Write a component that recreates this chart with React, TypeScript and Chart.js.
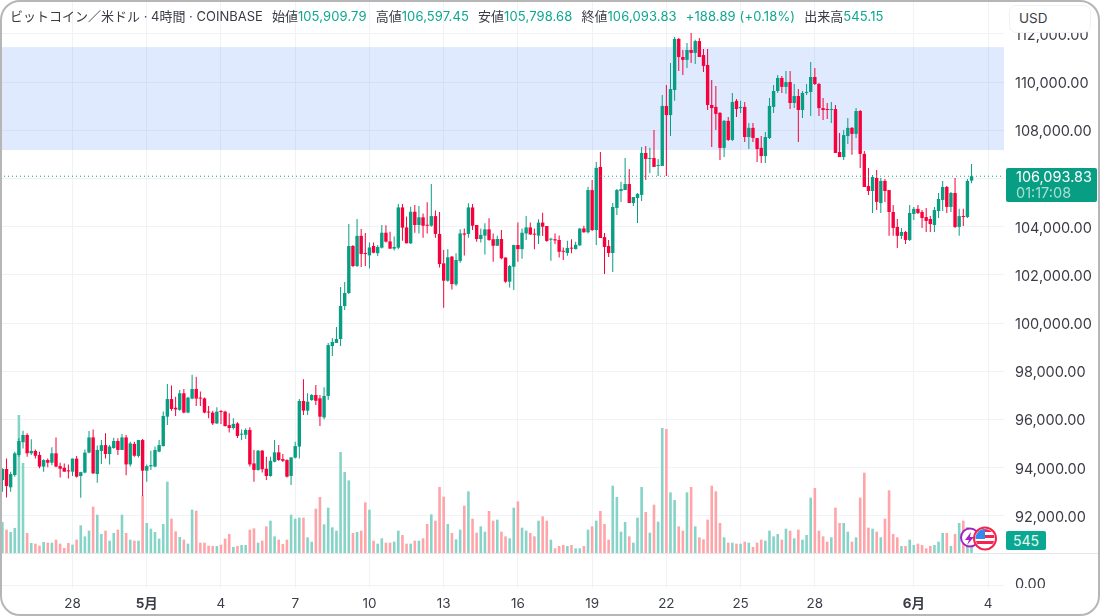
import { useEffect, useRef } from "react";
import Chart from "chart.js/auto";

const opens = [
  93490,93950,93190,93700,94530,95060,95360,94600,94700,94530,
  94050,94320,94210,94600,94070,94000,93880,93840,94380,93660,
  93800,94630,95260,93740,94700,94940,94570,94820,95110,94740,
  95260,94140,94990,94490,95150,93880,94060,94050,94670,94900,
  96120,96850,96490,96400,97090,96290,96870,97270,96910,96880,
  96310,96290,95840,96340,96330,95770,95650,95840,95370,95370,
  95570,94180,93910,94710,93960,93660,94250,94640,94360,94320,
  93660,94420,94880,96770,96370,96810,97020,96880,96090,96980,
  99050,99180,99340,100710,101250,103200,102370,103620,102910,102810,
  103200,102900,103130,103750,103390,103090,103130,104800,103970,103310,
  104620,104070,104390,104070,104040,104440,103700,102480,101760,102760,
  101610,102580,103720,103700,104800,104070,103490,103630,103890,103480,
  103210,103490,102720,101720,102340,103240,103070,103720,103970,103700,
  103630,104170,104030,103460,103480,103450,102990,102910,103120,103070,
  103230,103930,103770,105520,103860,106480,103570,103200,102910,104780,
  105480,105520,105770,104980,105190,105320,107060,106810,106850,106520,
  106520,109010,108630,109670,111790,111040,110920,111330,111210,111700,
  111120,110710,109050,108970,108720,107270,108390,107600,109220,108920,
  108970,107720,108100,107680,107270,106930,107680,108970,109630,110170,
  109800,110000,109130,109420,108840,109550,109590,110210,109920,108920,
  108880,108840,108880,107100,106890,107760,108100,107850,108800,107020,
  105690,105480,106020,104980,105900,105520,104610,103990,103620,103780,
  103450,104530,104740,104610,104400,104320,104070,104650,105110,105650,
  104820,105400,103990,104440,104400,105909.79,
];

const highs = [
  93980,94390,93840,94670,95240,95540,95430,95180,94760,94670,
  94350,94380,94850,95260,94210,94180,94140,94390,94490,93840,
  94760,95530,95590,94920,95150,95430,94940,95250,95220,95400,
  95360,95080,95080,95150,95190,94140,94710,94880,95150,96330,
  97480,97410,96950,97230,97270,96950,97860,97780,97160,96920,
  96560,96370,96510,96400,96370,96260,96050,95890,95590,95640,
  95680,94740,94740,94740,94460,94460,95150,94940,94570,94350,
  94430,95080,96850,97670,97090,97060,97430,97020,97340,99180,
  99380,99840,101500,101710,104110,103240,104320,103900,103740,103350,
  103340,103240,104070,104060,103790,103590,104940,104940,104420,104830,
  104900,104860,104550,105010,105770,104670,104610,103030,103060,102780,
  102900,103890,103930,104970,104940,104070,103930,104140,104350,103720,
  103630,103860,102730,102410,103250,104170,103930,104440,104170,103930,
  104310,104580,104030,103540,103720,103640,103140,103420,103480,103380,
  103950,104040,105660,105940,106680,107100,103740,103450,104980,105560,
  105860,106850,106390,105230,105400,107310,107350,107270,108010,106810,
  109460,109880,110790,111870,111830,111330,111620,112040,111750,111830,
  111370,111370,110090,109840,108760,108430,108550,109550,109300,109220,
  109170,108300,108300,107680,107760,107930,109340,109880,110290,110250,
  110460,110460,109920,109710,109630,109920,110830,110580,109960,109340,
  109130,109170,109050,107890,108010,108510,108140,108920,108840,107140,
  106440,106150,106350,106020,105980,105520,104900,104320,103950,103820,
  104900,104820,104900,104690,104780,104440,104820,105400,105900,105690,
  105440,106020,104740,104740,105980,106597.45,
];

const lows = [
  93010,92770,93010,93630,94460,94800,94460,94530,94390,93980,
  93840,94020,94110,94020,93600,93840,93560,93660,93600,92760,
  93770,94600,93740,93380,94160,94380,94140,94790,94530,94740,
  93690,94050,94460,94430,92830,93420,93910,94020,94640,94880,
  95770,96370,96150,96370,96260,96260,96840,96560,96560,96260,
  96050,95770,95820,95820,95710,95460,95590,95240,95150,95190,
  94050,93420,93880,93800,93490,93630,94230,94290,94240,93600,
  93290,94380,94380,96190,96190,96780,96600,95730,96010,96810,
  98640,99180,99050,100550,101210,102330,102330,102330,102370,102270,
  102900,102780,103100,103350,103090,103010,103060,103420,103310,103280,
  103750,103720,103540,103720,104000,103540,102310,100640,101720,101400,
  101540,102510,102810,103540,103860,103380,103350,102850,103420,102550,
  103200,102650,101680,101480,101370,102550,102670,103450,103660,103070,
  103280,103610,103380,102590,103280,102720,102620,102800,102900,103060,
  103200,103750,103720,103820,103240,103530,102040,102740,102120,104490,
  105030,105520,104980,104860,104150,105070,105940,106230,106480,106100,
  106520,106100,107760,109220,110460,110290,110580,110790,110750,111040,
  110420,108840,107310,108010,106770,106890,107560,107560,108550,108720,
  107510,107220,107510,106680,106640,106640,107640,108720,109550,109550,
  109510,108880,108920,107510,108510,109460,108590,109880,108590,108430,
  108470,108300,107060,106890,106770,107430,106980,107680,106440,105650,
  105320,104570,104690,104570,105030,103620,103620,103120,103490,103280,
  103410,104280,104530,103950,103780,103780,103780,104360,104650,104570,
  104610,103950,103620,104030,104360,105798.68,
];

const closes = [
  93950,93240,93740,94600,95110,95360,94600,94700,94500,94050,
  94320,94210,94600,94050,93960,93840,93850,94380,93630,93820,
  94630,95260,93770,94740,94940,94570,94880,95110,94740,95260,
  94140,95010,94500,95150,93880,94070,94110,94740,94940,96150,
  96850,96440,96420,97090,96290,96910,97270,96870,96870,96290,
  96290,95840,96330,96310,95730,95650,95820,95320,95400,95570,
  94140,93910,94710,93940,93660,94290,94640,94320,94290,93630,
  94430,94900,96770,96370,96740,97020,96780,96120,96980,99090,
  99220,99340,100710,101250,103200,102370,103620,102870,102870,103140,
  102920,103160,103750,103380,103090,103160,104800,103960,103310,104620,
  104070,104390,104040,104040,104440,103700,102450,101760,102730,101620,
  102620,103720,103670,104800,104040,103490,103660,103890,103450,103210,
  103490,102690,101720,102370,103240,103070,103750,103970,103680,103670,
  104170,104000,103410,103490,103430,102960,102960,103120,103090,103250,
  103920,103770,105520,103860,106440,103530,103160,102910,104820,105520,
  105560,105770,104980,105230,105360,107060,106810,106850,106480,106560,
  109010,108630,109710,111790,111040,110920,111330,111210,111700,111040,
  110670,109050,108920,108680,107270,108390,107600,109170,108880,108970,
  107720,108100,107680,107220,106930,107720,109010,109630,110170,109800,
  110000,109130,109420,108840,109550,109590,110210,109920,108920,108840,
  108840,108880,107060,106890,107800,108100,107850,108800,107020,105650,
  105480,106060,105030,105900,105480,104610,103950,103620,103780,103450,
  104570,104740,104570,104360,104240,104110,104690,105150,105650,104820,
  105400,103990,104440,104400,105900,106093.83,
];

const volumes = [
  1302,980,882,1050,5796,3780,840,420,392,308,
  462,434,434,560,392,210,420,350,560,1162,
  700,938,1946,1610,798,938,518,840,980,1610,
  840,560,518,518,2408,1260,1022,882,602,1218,
  2996,1442,910,672,560,392,1820,1778,434,434,
  308,294,294,350,602,798,252,294,336,336,
  980,1036,434,518,1120,1358,700,560,378,560,
  1610,1442,1484,1484,658,476,1862,2352,1204,1904,
  1078,938,4242,3402,3052,840,882,938,2128,1820,
  518,392,616,434,434,476,938,756,392,392,
  518,518,616,1218,1624,1358,2772,2366,1218,840,
  574,980,1988,2590,1442,854,1120,896,1764,1358,
  1400,896,700,616,1904,2170,1064,938,840,700,
  1358,1540,1358,560,196,294,336,294,336,196,
  196,294,980,1120,1358,1764,1218,560,2828,2352,
  896,1302,700,434,1484,2772,1722,854,2030,1316,
  5250,5208,2548,2226,1120,938,2548,2772,1120,658,
  574,1400,2828,2590,1260,658,434,434,392,392,
  476,434,252,434,560,518,938,700,798,560,
  1022,938,616,980,560,756,2324,2730,938,700,
  476,658,1904,1260,1260,896,476,658,2324,3374,
  1064,1022,896,658,1442,2632,798,658,294,294,
  560,336,392,336,196,294,336,476,840,840,
  294,798,1260,1358,1092,545.15,
];

const priceTicks = [92000,94000,96000,98000,100000,102000,104000,106000,108000,110000,112000];
const xTickIndex = [17,35,53,71,89,107,125,143,161,179,197,221,239];
const xTickLabels = ["28","5月","4","7","10","13","16","19","22","25","28","6月","4"];
const monthTicks = ["5月","6月"];
const bandTop = 111450;
const bandBottom = 107180;
const lastClose = 106093.83;

const UP = "#089e83";
const DOWN = "#f7003b";
const UP_VOL = "#86d4c8";
const DOWN_VOL = "#ffa5a9";
const GRID = "#f1f2f5";
const FONT = 'Inter, "Noto Sans CJK JP", sans-serif';

const fitAxisWidth = (axis: any) => {
  axis.width = 96;
  axis.paddingTop = 0;
  axis.paddingBottom = 0;
};

const bandPlugin = {
  id: "band",
  beforeDatasetsDraw(chart: any) {
    const { ctx, chartArea, scales } = chart;
    const top = scales.y.getPixelForValue(bandTop);
    const bottom = scales.y.getPixelForValue(bandBottom);
    ctx.save();
    ctx.fillStyle = "rgba(41,110,245,0.145)";
    ctx.fillRect(chartArea.left, top, chartArea.width, bottom - top);
    ctx.restore();
  },
  afterDraw(chart: any) {
    const { ctx, scales } = chart;
    ctx.save();
    ctx.strokeStyle = "#e6e7ea";
    ctx.beginPath();
    ctx.moveTo(0, scales.yLower.top + 0.5);
    ctx.lineTo(chart.width, scales.yLower.top + 0.5);
    ctx.stroke();
    ctx.restore();
  },
};

function Stat({ label, value }: { label: string; value: string }) {
  return (
    <span style={{ marginLeft: 9 }}>
      {label}
      <span style={{ color: "#0da88e", letterSpacing: 0.12 }}>{value}</span>
    </span>
  );
}

export default function App() {
  const canvasRef = useRef<HTMLCanvasElement>(null);

  useEffect(() => {
    if (!canvasRef.current) return;
    const index = opens.map((_, i) => i);
    const isUp = (i: number) => closes[i] >= opens[i];
    const xMin = -0.582;
    const xMax = 242.87;

    const chart = new Chart(canvasRef.current, {
      data: {
        datasets: [
          {
            type: "line",
            data: [
              { x: xMin, y: lastClose },
              { x: xMax, y: lastClose },
            ],
            yAxisID: "y",
            borderColor: UP,
            borderWidth: 1,
            borderDash: [1, 3],
            pointRadius: 0,
            order: 0,
          },
          {
            type: "bar",
            data: index.map((i) => ({ x: i, y: [opens[i], closes[i]] })),
            yAxisID: "y",
            backgroundColor: index.map((i) => (isUp(i) ? UP : DOWN)),
            barThickness: 3.4,
            grouped: false,
            minBarLength: 1,
            inflateAmount: 0,
            order: 1,
          },
          {
            type: "bar",
            data: index.map((i) => ({ x: i, y: [lows[i], highs[i]] })),
            yAxisID: "y",
            backgroundColor: index.map((i) => (isUp(i) ? UP : DOWN)),
            barThickness: 1,
            grouped: false,
            inflateAmount: 0,
            order: 2,
          },
          {
            type: "bar",
            data: index.map((i) => ({ x: i, y: volumes[i] })),
            yAxisID: "yVol",
            backgroundColor: index.map((i) => (isUp(i) ? UP_VOL : DOWN_VOL)),
            barThickness: 2.6,
            grouped: false,
            inflateAmount: 0,
            order: 3,
          },
        ],
      } as any,
      options: {
        responsive: false,
        animation: false,
        layout: { padding: 0, autoPadding: false },
        plugins: { legend: { display: false }, tooltip: { enabled: false } },
        scales: {
          x: {
            type: "linear",
            position: "bottom",
            offset: false,
            min: xMin,
            max: xMax,
            afterBuildTicks: (axis: any) => {
              axis.ticks = xTickIndex.map((value) => ({ value }));
            },
            afterFit: (axis: any) => {
              axis.height = 28;
            },
            grid: { color: GRID, drawTicks: false, offset: false },
            border: { display: false },
            ticks: {
              autoSkip: false,
              maxRotation: 0,
              padding: 8,
              color: "#3a3d45",
              callback: (value: any) => xTickLabels[xTickIndex.indexOf(value)],
              font: (ctx: any) => {
                const label = xTickLabels[xTickIndex.indexOf(ctx.tick?.value)];
                return {
                  family: FONT,
                  size: 13.5,
                  weight: monthTicks.includes(label) ? "bold" : "normal",
                };
              },
            },
          },
          y: {
            type: "linear",
            position: "right",
            stack: "price",
            stackWeight: 553,
            min: 90465,
            max: 113404,
            afterBuildTicks: (axis: any) => {
              axis.ticks = priceTicks.map((value) => ({ value }));
            },
            afterFit: fitAxisWidth,
            grid: { color: GRID, drawTicks: false },
            border: { display: false },
            ticks: {
              padding: 11,
              labelOffset: 1.5,
              color: "#3a3d45",
              font: { family: FONT, size: 14.5 },
              callback: (value: any) =>
                Number(value).toLocaleString("en-US", { minimumFractionDigits: 2 }),
            },
          },
          yLower: {
            type: "linear",
            position: "right",
            stack: "price",
            stackWeight: 35,
            min: -3,
            max: 32,
            afterBuildTicks: (axis: any) => {
              axis.ticks = [{ value: 0 }];
            },
            afterFit: fitAxisWidth,
            grid: { color: GRID, drawTicks: false },
            border: { display: false },
            ticks: {
              padding: 11,
              color: "#3a3d45",
              font: { family: FONT, size: 14.5 },
              callback: () => "0.00",
            },
          },
          yVol: {
            type: "linear",
            display: false,
            min: -1470,
            max: 23226,
          },
        },
      } as any,
      plugins: [bandPlugin],
    });

    return () => chart.destroy();
  }, []);

  return (
    <div
      style={{
        position: "fixed",
        left: 0,
        top: 0,
        width: 1100,
        height: 616,
        background: "#fff",
        overflow: "hidden",
        fontFamily: FONT,
      }}
    >
      <canvas ref={canvasRef} width={1100} height={616} style={{ display: "block" }} />

      {/* Header line */}
      <div
        style={{
          position: "absolute",
          left: 10,
          top: 8,
          fontSize: 13,
          lineHeight: "16px",
          color: "#3a3d45",
          whiteSpace: "nowrap",
        }}
      >
        <span>ビットコイン／米ドル · 4時間 · COINBASE</span>
        <Stat label="始値" value="105,909.79" />
        <Stat label="高値" value="106,597.45" />
        <Stat label="安値" value="105,798.68" />
        <Stat label="終値" value="106,093.83" />
        <span style={{ marginLeft: 9, color: "#0da88e", letterSpacing: 0.12 }}>
          +188.89 (+0.18%)
        </span>
        <Stat label="出来高" value="545.15" />
      </div>

      {/* Currency button */}
      <div
        style={{
          position: "absolute",
          left: 1009,
          top: 5,
          width: 82,
          height: 28,
          boxSizing: "border-box",
          background: "#fff",
          border: "1px solid #f0f1f3",
          borderRadius: 7,
          paddingLeft: 9,
          fontSize: 13.5,
          lineHeight: "25px",
          color: "#3a3d45",
        }}
      >
        USD
      </div>

      {/* Last price tag */}
      <div
        style={{
          position: "absolute",
          left: 1006,
          top: 168,
          width: 91,
          height: 34,
          background: UP,
          borderRadius: 2,
          color: "#fff",
          fontSize: 14.5,
          lineHeight: "15.5px",
          paddingLeft: 10,
          paddingTop: 1,
          boxSizing: "border-box",
        }}
      >
        <div>106,093.83</div>
        <div style={{ color: "rgba(255,255,255,0.65)" }}>01:17:08</div>
      </div>

      {/* Volume tag */}
      <div
        style={{
          position: "absolute",
          left: 1006,
          top: 531,
          width: 40,
          height: 19,
          background: "#0aa892",
          borderRadius: 2,
          color: "#e8f7f4",
          fontSize: 14,
          lineHeight: "19px",
          textAlign: "center",
        }}
      >
        545
      </div>

      {/* Clips the bottom of the lower pane's label */}
      <div
        style={{
          position: "absolute",
          left: 1006,
          top: 588,
          width: 90,
          height: 24,
          background: "#fff",
        }}
      />

      {/* Event markers */}
      <svg
        width="44"
        height="30"
        viewBox="0 0 44 30"
        style={{ position: "absolute", left: 958, top: 524 }}
      >
        <defs>
          <clipPath id="flag">
            <circle cx="27" cy="14.5" r="9.5" />
          </clipPath>
        </defs>
        <circle cx="12" cy="13.5" r="9" fill="#fff" stroke="#a71fc4" strokeWidth="2" />
        <path d="M13 8 L7 16 H11 L9 21 L16 13 H12 Z" fill="#a71fc4" />
        <circle cx="27" cy="14.5" r="11" fill="#fff" stroke="#f5234d" strokeWidth="2" />
        <g clipPath="url(#flag)">
          <rect x="17" y="5" width="20" height="3" fill="#f5234d" />
          <rect x="17" y="11" width="20" height="3" fill="#f5234d" />
          <rect x="17" y="17" width="20" height="3" fill="#f5234d" />
          <rect x="17" y="5" width="10" height="10" fill="#2f8bf0" />
        </g>
      </svg>

      {/* Window frame */}
      <div
        style={{
          position: "absolute",
          inset: 0,
          boxSizing: "border-box",
          border: "2px solid #b6b6b6",
          borderRadius: 20,
          pointerEvents: "none",
        }}
      />
    </div>
  );
}
